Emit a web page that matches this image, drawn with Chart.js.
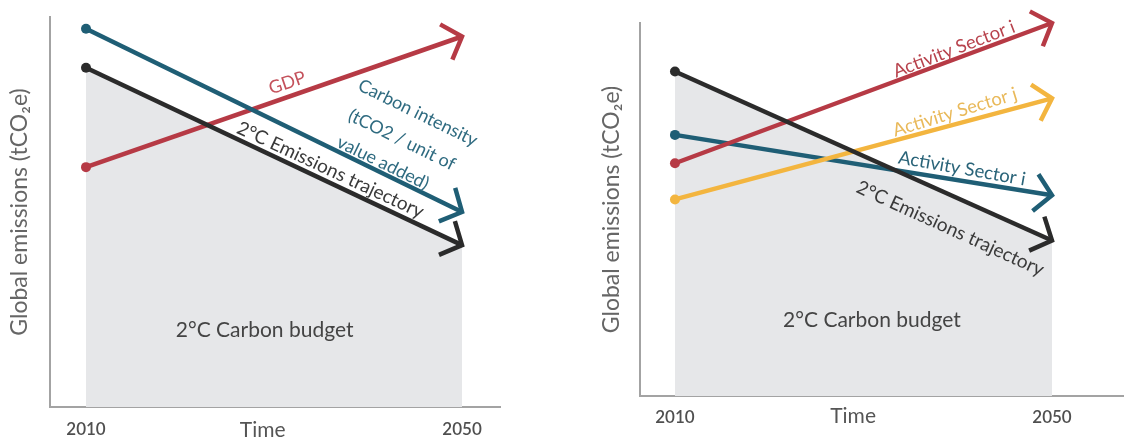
<!DOCTYPE html>
<html>
<head>
<meta charset="utf-8">
<script src="https://cdn.jsdelivr.net/npm/chart.js@4.4.1/dist/chart.umd.min.js"></script>
<style>
  html, body { margin: 0; padding: 0; background: #fff; }
  #wrap { position: relative; width: 1124px; height: 439px; }
  .panel { position: absolute; top: 0; width: 562px; height: 439px; }
</style>
</head>
<body>
<div id="wrap">
  <div class="panel" style="left:0"><canvas id="chart-left"></canvas></div>
  <div class="panel" style="left:562px"><canvas id="chart-right"></canvas></div>
</div>
<script>
const years = [2010, 2050];
const tickYears = [2010, 2050];

// left panel
const emissionsLeft = [87, 41.5];
const carbonIntensity = [97, 50];
const gdp = [61.5, 95];

// right panel
const emissionsRight = [87, 41.7];
const sectorIRed = [62.4, 100];
const sectorJ = [52.7, 79.8];
const sectorIBlue = [70, 53.8];

const C = {
  black: "#2b2b2b",
  blue: "#1f5e75",
  red: "#b63a45",
  yellow: "#f3b53f",
  fill: "#e6e7e9",
  axis: "#a3a3a3"
};

function lineDataset(label, values, color, fill = false) {
  return {
    label,
    data: years.map((x, i) => ({ x, y: values[i] })),
    borderColor: color,
    backgroundColor: fill ? C.fill : color,
    pointBackgroundColor: color,
    pointBorderWidth: 0,
    pointRadius: ctx => ctx.dataIndex === 0 ? 5 : 0,
    borderWidth: 4.5,
    tension: 0,
    clip: false,
    fill: fill ? "origin" : false
  };
}

// open chevron at the end of every line
const arrowPlugin = {
  id: "arrows",
  afterDatasetsDraw(chart) {
    const ctx = chart.ctx;
    chart.data.datasets.forEach((ds, i) => {
      const pts = chart.getDatasetMeta(i).data;
      const a = pts[pts.length - 2], b = pts[pts.length - 1];
      const ang = Math.atan2(b.y - a.y, b.x - a.x);
      const len = 25, spread = 0.84;
      ctx.save();
      ctx.strokeStyle = ds.borderColor;
      ctx.lineWidth = 4.5;
      ctx.lineJoin = "miter";
      ctx.beginPath();
      ctx.moveTo(b.x - len * Math.cos(ang - spread), b.y - len * Math.sin(ang - spread));
      ctx.lineTo(b.x, b.y);
      ctx.lineTo(b.x - len * Math.cos(ang + spread), b.y - len * Math.sin(ang + spread));
      ctx.stroke();
      ctx.restore();
    });
  }
};

function notesPlugin(notes) {
  return {
    id: "notes",
    afterDraw(chart) {
      const { ctx, scales: { x, y } } = chart;
      notes.forEach(n => {
        ctx.save();
        ctx.translate(x.getPixelForValue(n.at[0]), y.getPixelForValue(n.at[1]));
        ctx.rotate((n.angle || 0) * Math.PI / 180);
        ctx.font = `${n.weight || 400} ${n.size}px Lato`;
        ctx.fillStyle = n.color;
        ctx.textAlign = "center";
        ctx.textBaseline = "middle";
        ctx.fillText(n.text, 0, 0);
        ctx.restore();
      });
    }
  };
}

function createPanel(id, datasets, xMin, xMax, padding, yWidth, titlePad, tickPad, notes) {
  return new Chart(document.getElementById(id), {
    type: "line",
    data: { datasets },
    options: {
      responsive: true,
      maintainAspectRatio: false,
      animation: false,
      layout: { padding, autoPadding: false },
      plugins: {
        legend: { display: false },
        tooltip: { enabled: false },
        filler: { drawTime: "beforeDatasetsDraw" }
      },
      scales: {
        x: {
          type: "linear", min: xMin, max: xMax,
          grid: { display: false, drawTicks: false },
          border: { color: C.axis, width: 2 },
          afterBuildTicks: axis => { axis.ticks = tickYears.map(value => ({ value })); },
          afterFit: axis => { axis.height = 20 + tickPad; axis.paddingLeft = 0; axis.paddingRight = 0; },
          ticks: {
            color: "#4f4f4f", padding: tickPad, maxRotation: 0, autoSkip: false,
            font: { family: "Lato", size: 17, weight: "600" },
            callback: v => String(v)
          }
        },
        y: {
          min: 0, max: 100,
          grid: { display: false, drawTicks: false },
          border: { color: C.axis, width: 2 },
          ticks: { display: false },
          afterFit: axis => { axis.width = yWidth; },
          title: {
            display: true, text: "Global emissions (tCO₂e)", color: "#666",
            font: { family: "Lato", size: 23 }, padding: titlePad
          }
        }
      }
    },
    plugins: [arrowPlugin, notesPlugin(notes)]
  });
}

createPanel("chart-left", [
  lineDataset("2°C Emissions trajectory", emissionsLeft, C.black, true),
  lineDataset("Carbon intensity", carbonIntensity, C.blue),
  lineDataset("GDP", gdp, C.red)
], 2006.17, 2054.04, { left: 0, top: 17, right: 62, bottom: 0 }, 50, { top: 6, bottom: 0 }, 12, [
  { text: "GDP", at: [2031.4, 83.1], angle: -19, size: 18, color: "#c4515b" },
  { text: "Carbon intensity", at: [2045.3, 75.4], angle: 26, size: 18, color: "#2f6b80" },
  { text: "(tCO2 / unit of", at: [2043.6, 68.5], angle: 26, size: 18, color: "#2f6b80" },
  { text: "value added)", at: [2041.6, 62.6], angle: 26, size: 18, color: "#2f6b80" },
  { text: "2°C Emissions trajectory", at: [2036.0, 60.8], angle: 25, size: 19, color: "#3a3a3a" },
  { text: "2°C Carbon budget", at: [2029.0, 19.7], size: 21, color: "#444" },
  { text: "Time", at: [2028.8, -5.9], size: 21, color: "#555" }
]);

createPanel("chart-right", [
  lineDataset("2°C Emissions trajectory", emissionsRight, C.black, true),
  lineDataset("Activity Sector i", sectorIRed, C.red),
  lineDataset("Activity Sector j", sectorJ, C.yellow),
  lineDataset("Activity Sector i", sectorIBlue, C.blue)
], 2006.29, 2057.64, { left: 30, top: 23, right: 0, bottom: 12 }, 48, { top: 6, bottom: 0 }, 11, [
  { text: "Activity Sector i", at: [2039.6, 93.0], angle: -21, size: 18.5, color: "#b8434d" },
  { text: "Activity Sector j", at: [2039.7, 76.1], angle: -17, size: 18.5, color: "#e9b95a" },
  { text: "Activity Sector i", at: [2040.45, 61.0], angle: 10, size: 18.5, color: "#2a6479" },
  { text: "2°C Emissions trajectory", at: [2039.2, 44.9], angle: 24.5, size: 19, color: "#3a3a3a" },
  { text: "2°C Carbon budget", at: [2030.9, 20.2], size: 21, color: "#444" },
  { text: "Time", at: [2028.9, -5.4], size: 21, color: "#555" }
]);
</script>
</body>
</html>
